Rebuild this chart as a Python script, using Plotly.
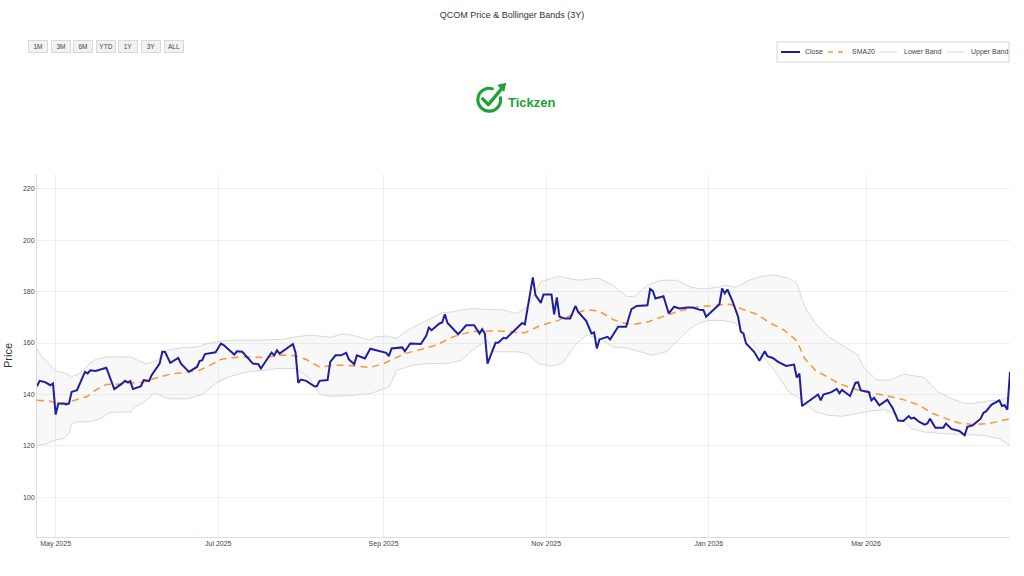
import base64
import plotly.graph_objects as go

# ---------------- data ----------------
close_dates = [
    "2025-04-24", "2025-04-25", "2025-04-27", "2025-04-29", "2025-04-30",
    "2025-05-01", "2025-05-02", "2025-05-04", "2025-05-05", "2025-05-06", "2025-05-07", "2025-05-09",
    "2025-05-12", "2025-05-13", "2025-05-14", "2025-05-16", "2025-05-20", "2025-05-23", "2025-05-26",
    "2025-05-27", "2025-05-28", "2025-05-29", "2025-05-30",
    "2025-06-02", "2025-06-03", "2025-06-05", "2025-06-06", "2025-06-09", "2025-06-10", "2025-06-11",
    "2025-06-13", "2025-06-16", "2025-06-17", "2025-06-20", "2025-06-23", "2025-06-24", "2025-06-25",
    "2025-06-26", "2025-06-30",
    "2025-07-02", "2025-07-03", "2025-07-07", "2025-07-08", "2025-07-10", "2025-07-14", "2025-07-16",
    "2025-07-17", "2025-07-19", "2025-07-21", "2025-07-22", "2025-07-23", "2025-07-24", "2025-07-29",
    "2025-07-30", "2025-07-31",
    "2025-08-01", "2025-08-03", "2025-08-06", "2025-08-07", "2025-08-08", "2025-08-11", "2025-08-12",
    "2025-08-14", "2025-08-16", "2025-08-18", "2025-08-19", "2025-08-21", "2025-08-22", "2025-08-25",
    "2025-08-27", "2025-08-29",
    "2025-09-02", "2025-09-03", "2025-09-04", "2025-09-08", "2025-09-09", "2025-09-11", "2025-09-15",
    "2025-09-17", "2025-09-18", "2025-09-19", "2025-09-22", "2025-09-23", "2025-09-24", "2025-09-25",
    "2025-09-27", "2025-09-29", "2025-09-30",
    "2025-10-02", "2025-10-05", "2025-10-07", "2025-10-08", "2025-10-09", "2025-10-10", "2025-10-13",
    "2025-10-14", "2025-10-16", "2025-10-17", "2025-10-20", "2025-10-22", "2025-10-23", "2025-10-24",
    "2025-10-27", "2025-10-28", "2025-10-30", "2025-10-31",
    "2025-11-03", "2025-11-04", "2025-11-05", "2025-11-06", "2025-11-08", "2025-11-10", "2025-11-12",
    "2025-11-13", "2025-11-16", "2025-11-18", "2025-11-19", "2025-11-20", "2025-11-21", "2025-11-24",
    "2025-11-25", "2025-11-28",
    "2025-12-01", "2025-12-03", "2025-12-05", "2025-12-09", "2025-12-10", "2025-12-11", "2025-12-12",
    "2025-12-15", "2025-12-17", "2025-12-19", "2025-12-21", "2025-12-24", "2025-12-26", "2025-12-29",
    "2025-12-30", "2025-12-31",
    "2026-01-05", "2026-01-06", "2026-01-07", "2026-01-08", "2026-01-10", "2026-01-12", "2026-01-13",
    "2026-01-14", "2026-01-15", "2026-01-18", "2026-01-20", "2026-01-22", "2026-01-23", "2026-01-25",
    "2026-01-27", "2026-01-30",
    "2026-02-02", "2026-02-03", "2026-02-04", "2026-02-05", "2026-02-07", "2026-02-09", "2026-02-11",
    "2026-02-12", "2026-02-13", "2026-02-16", "2026-02-18", "2026-02-19", "2026-02-20", "2026-02-23",
    "2026-02-25", "2026-02-26", "2026-02-27",
    "2026-03-02", "2026-03-03", "2026-03-04", "2026-03-06", "2026-03-09", "2026-03-11", "2026-03-13",
    "2026-03-15", "2026-03-17", "2026-03-18", "2026-03-19", "2026-03-21", "2026-03-23", "2026-03-24",
    "2026-03-25", "2026-03-27", "2026-03-30", "2026-03-31",
    "2026-04-02", "2026-04-05", "2026-04-07", "2026-04-08", "2026-04-10", "2026-04-13", "2026-04-14",
    "2026-04-15", "2026-04-17", "2026-04-20", "2026-04-21", "2026-04-22", "2026-04-23", "2026-04-24",
]
close_values = [
    143.2, 145.3, 144.8, 143.6, 144.3,
    132.2, 136.5, 136.5, 136.1, 136.5, 141.0, 141.7,
    148.8, 148.2, 149.4, 149.1, 150.4, 142.1, 144.3,
    145.3, 144.7, 145.2, 142.1,
    143.2, 145.6, 145.2, 147.5, 152.0, 156.6, 156.6,
    152.3, 154.2, 152.0, 148.8, 150.7, 153.0, 153.3,
    155.7, 156.4,
    159.8, 159.2, 155.5, 156.8, 156.6, 152.0, 151.8,
    150.1, 153.3, 156.3, 155.2, 157.2, 155.9, 159.6,
    156.2, 144.5,
    145.8, 145.3, 143.2, 143.2, 145.3, 145.6, 152.7,
    155.2, 155.2, 156.2, 153.6, 151.8, 155.2, 154.0,
    157.8, 157.2,
    156.2, 154.9, 157.9, 158.3, 156.8, 159.8, 159.6,
    162.8, 166.0, 165.0, 167.6, 168.0, 171.2, 167.8,
    165.6, 163.4, 164.5,
    166.9, 166.9, 163.7, 165.4, 163.7, 152.0, 160.1,
    160.1, 162.0, 161.8, 164.7, 166.9, 167.8, 167.2,
    185.5, 178.6, 175.6, 178.9,
    178.9, 171.1, 177.7, 170.2, 169.5, 169.5, 174.4,
    172.1, 168.6, 163.7, 164.1, 157.9, 161.4, 162.4,
    161.4, 166.3,
    166.3, 173.2, 174.4, 174.7, 181.0, 180.3, 177.3,
    178.2, 171.5, 174.1, 173.4, 173.8, 173.8, 172.8,
    172.8, 170.2,
    175.1, 181.2, 179.3, 180.8, 176.0, 170.2, 164.4,
    163.7, 159.8, 156.6, 153.1, 156.8, 154.9, 154.2,
    152.7, 151.1,
    151.6, 146.6, 148.1, 135.5, 137.0, 138.3, 140.0,
    137.7, 140.0, 140.9, 142.2, 140.5, 141.8, 139.4,
    144.5, 144.8, 141.6,
    141.0, 137.7, 138.7, 135.8, 138.0, 134.7, 129.9,
    129.7, 131.6, 130.6, 131.0, 129.3, 128.3, 128.7,
    130.6, 127.1, 127.1, 128.7,
    126.6, 125.8, 124.1, 127.4, 128.0, 130.6, 132.8,
    133.4, 136.0, 137.7, 135.5, 135.8, 134.1, 148.8,
]

sma_dates = [
    "2025-04-24", "2025-04-29", "2025-05-03", "2025-05-08", "2025-05-13", "2025-05-16", "2025-05-20",
    "2025-05-24", "2025-05-29", "2025-06-03", "2025-06-07", "2025-06-13", "2025-06-19", "2025-06-24",
    "2025-06-28", "2025-07-02", "2025-07-05", "2025-07-10", "2025-07-18", "2025-07-25", "2025-07-30",
    "2025-08-03", "2025-08-08", "2025-08-14", "2025-08-19", "2025-08-27", "2025-09-01", "2025-09-09",
    "2025-09-15", "2025-09-21", "2025-09-27", "2025-10-04", "2025-10-10", "2025-10-16", "2025-10-24",
    "2025-10-30", "2025-11-05", "2025-11-10", "2025-11-16", "2025-11-21", "2025-11-26", "2025-11-30",
    "2025-12-04", "2025-12-09", "2025-12-15", "2025-12-21", "2025-12-28", "2025-12-31", "2026-01-05",
    "2026-01-09", "2026-01-14", "2026-01-19", "2026-01-24", "2026-01-29", "2026-02-03", "2026-02-06",
    "2026-02-10", "2026-02-14", "2026-02-19", "2026-02-24", "2026-03-01", "2026-03-08", "2026-03-15",
    "2026-03-21", "2026-03-26", "2026-03-31", "2026-04-05", "2026-04-10", "2026-04-16", "2026-04-24",
]
sma_values = [
    137.8, 137.4, 136.1, 137.8, 139.3, 141.7, 143.9,
    144.0, 144.3, 144.8, 146.2, 147.9, 148.7, 149.4,
    151.4, 153.6, 154.2, 154.6, 154.4, 155.3, 155.1,
    153.6, 150.7, 151.4, 151.3, 150.5, 152.0, 155.9,
    157.5, 159.3, 162.4, 164.5, 164.7, 164.6, 164.0,
    166.9, 168.6, 170.6, 173.0, 172.4, 169.2, 167.8,
    167.3, 168.2, 170.2, 172.5, 174.1, 174.4, 174.7,
    175.1, 173.0, 171.2, 167.8, 165.2, 160.9, 154.0,
    149.4, 147.1, 144.2, 142.3, 141.0, 139.7, 138.0,
    135.8, 132.6, 130.6, 128.9, 128.3, 128.7, 130.6,
]

upper_dates = [
    "2025-04-24", "2025-04-26", "2025-04-30", "2025-05-01", "2025-05-05", "2025-05-07", "2025-05-10",
    "2025-05-14", "2025-05-16", "2025-05-20", "2025-05-25", "2025-05-29", "2025-06-02", "2025-06-04",
    "2025-06-08", "2025-06-12", "2025-06-17", "2025-06-23", "2025-06-27", "2025-07-02", "2025-07-08",
    "2025-07-15", "2025-07-25", "2025-07-30", "2025-08-05", "2025-08-12", "2025-08-16", "2025-08-19",
    "2025-08-27", "2025-08-29", "2025-09-02", "2025-09-06", "2025-09-10", "2025-09-15", "2025-09-20",
    "2025-09-23", "2025-09-27", "2025-09-30", "2025-10-05", "2025-10-10", "2025-10-15", "2025-10-21",
    "2025-10-25", "2025-10-30", "2025-11-03", "2025-11-06", "2025-11-09", "2025-11-14", "2025-11-19",
    "2025-11-21", "2025-11-26", "2025-12-01", "2025-12-04", "2025-12-09", "2025-12-14", "2025-12-20",
    "2025-12-25", "2025-12-28", "2026-01-01", "2026-01-05", "2026-01-07", "2026-01-11", "2026-01-16",
    "2026-01-21", "2026-01-26", "2026-01-31", "2026-02-03", "2026-02-06", "2026-02-10", "2026-02-15",
    "2026-02-19", "2026-02-26", "2026-02-28", "2026-03-05", "2026-03-10", "2026-03-15", "2026-03-23",
    "2026-03-28", "2026-04-02", "2026-04-07", "2026-04-10", "2026-04-16", "2026-04-20", "2026-04-24",
]
upper_values = [
    157.9, 154.6, 150.1, 149.1, 148.2, 146.9, 148.2,
    152.3, 153.6, 154.6, 154.6, 154.6, 152.7, 151.8,
    153.3, 157.2, 158.1, 158.5, 159.8, 160.8, 161.1,
    161.1, 161.4, 162.4, 163.1, 162.2, 163.4, 163.4,
    161.1, 162.4, 162.7, 161.8, 165.0, 167.6, 170.5,
    171.8, 172.1, 172.8, 173.4, 173.0, 173.0, 171.5,
    174.1, 183.8, 185.1, 186.0, 185.1, 184.4, 185.1,
    185.1, 182.5, 178.2, 178.0, 182.5, 184.4, 184.4,
    181.8, 181.2, 181.2, 181.8, 182.5, 181.6, 184.4,
    186.0, 186.4, 185.1, 183.2, 174.1, 167.6, 162.4,
    159.8, 155.3, 150.8, 145.6, 145.6, 147.9, 146.6,
    141.0, 138.4, 136.5, 136.5, 137.5, 137.7, 139.0,
]

lower_dates = [
    "2025-04-24", "2025-04-28", "2025-05-01", "2025-05-04", "2025-05-06", "2025-05-07", "2025-05-09",
    "2025-05-14", "2025-05-18", "2025-05-21", "2025-05-25", "2025-05-29", "2025-05-31", "2025-06-03",
    "2025-06-07", "2025-06-12", "2025-06-17", "2025-06-20", "2025-06-25", "2025-06-30", "2025-07-05",
    "2025-07-12", "2025-07-18", "2025-07-23", "2025-07-30", "2025-08-04", "2025-08-08", "2025-08-12",
    "2025-08-19", "2025-08-27", "2025-08-29", "2025-09-03", "2025-09-06", "2025-09-12", "2025-09-17",
    "2025-09-25", "2025-09-30", "2025-10-06", "2025-10-10", "2025-10-12", "2025-10-16", "2025-10-21",
    "2025-10-25", "2025-10-29", "2025-11-03", "2025-11-07", "2025-11-12", "2025-11-16", "2025-11-21",
    "2025-11-26", "2025-12-01", "2025-12-06", "2025-12-11", "2025-12-16", "2025-12-21", "2025-12-25",
    "2025-12-28", "2026-01-01", "2026-01-06", "2026-01-11", "2026-01-16", "2026-01-21", "2026-01-26",
    "2026-01-31", "2026-02-05", "2026-02-10", "2026-02-15", "2026-02-20", "2026-02-26", "2026-03-03",
    "2026-03-08", "2026-03-13", "2026-03-18", "2026-03-23", "2026-03-30", "2026-04-07", "2026-04-14",
    "2026-04-20", "2026-04-24",
]
lower_values = [
    120.0, 121.0, 122.3, 122.9, 124.8, 128.5, 129.4,
    129.4, 130.7, 132.9, 133.2, 133.2, 135.2, 136.8,
    140.6, 138.4, 138.3, 138.4, 140.0, 144.3, 146.9,
    148.8, 149.4, 150.1, 150.1, 146.6, 140.1, 139.3,
    139.5, 140.4, 141.0, 142.9, 149.4, 151.4, 152.0,
    152.0, 153.3, 158.5, 161.1, 156.6, 156.6, 156.6,
    155.9, 152.0, 151.0, 152.0, 159.2, 163.1, 161.8,
    158.5, 158.1, 156.6, 155.3, 156.6, 161.8, 165.6,
    167.6, 168.8, 168.8, 167.8, 161.8, 155.3, 148.8,
    141.0, 137.8, 133.2, 131.9, 131.5, 132.6, 133.6,
    134.1, 131.9, 126.7, 125.4, 124.8, 124.4, 124.1,
    122.8, 120.2,
]

range_buttons = ["1M", "3M", "6M", "YTD", "1Y", "3Y", "ALL"]
legend_names = ["Close", "SMA20", "Lower Band", "Upper Band"]

assert len(close_dates) == len(close_values)
assert len(sma_dates) == len(sma_values)
assert len(upper_dates) == len(upper_values)
assert len(lower_dates) == len(lower_values)

title_text = "QCOM Price & Bollinger Bands (3Y)"
x_range = ["2025-04-24", "2026-04-24"]
y_range = [84.6, 225.7]

# ---------------- styling ----------------
FONT = "Liberation Sans, Arial, Helvetica, sans-serif"
GREEN = "#21a038"
C_CLOSE = "#1f1f9c"
C_SMA = "#ff9333"
C_BAND = "#d9d9d9"
SMA_DASH = "7px,5px"

W, H = 1024, 576
M_L, M_R, M_T, M_B = 37, 14, 174, 39
PW = W - M_L - M_R
PH = H - M_T - M_B


def px_x(px):
    return (px - M_L) / PW


def px_y(py):
    return 1 + (M_T - py) / PH


fig = go.Figure()

# band fill (polygon between the upper and lower band)
fig.add_trace(go.Scatter(
    x=upper_dates + lower_dates[::-1], y=upper_values + lower_values[::-1],
    mode="lines", line=dict(width=0), fill="toself",
    fillcolor="rgba(200,200,200,0.13)", showlegend=False, hoverinfo="skip",
))
fig.add_trace(go.Scatter(
    x=lower_dates, y=lower_values, name="Lower Band", mode="lines",
    line=dict(color=C_BAND, width=1),
))
fig.add_trace(go.Scatter(
    x=upper_dates, y=upper_values, name="Upper Band", mode="lines",
    line=dict(color=C_BAND, width=1),
))
fig.add_trace(go.Scatter(
    x=sma_dates, y=sma_values, name="SMA20", mode="lines",
    line=dict(color=C_SMA, width=1.5, dash=SMA_DASH),
))
fig.add_trace(go.Scatter(
    x=close_dates, y=close_values, name="Close", mode="lines",
    line=dict(color=C_CLOSE, width=2),
))

shapes = []
annotations = []

# ---- compact legend box (top right) ----
shapes.append(dict(type="rect", xref="paper", yref="paper",
                   x0=px_x(777), x1=px_x(1009), y0=px_y(62), y1=px_y(42),
                   line=dict(color="#d6d6d6", width=1), fillcolor="white", layer="above"))
legend_items = [
    (legend_names[0], 781, 800, 803, dict(color=C_CLOSE, width=2)),
    (legend_names[1], 828, 845, 850, dict(color=C_SMA, width=1.5, dash="5px,5px")),
    (legend_names[2], 880, 897, 902, dict(color=C_BAND, width=1)),
    (legend_names[3], 947, 964, 969, dict(color=C_BAND, width=1)),
]
for name, lx0, lx1, tx, ln in legend_items:
    shapes.append(dict(type="line", xref="paper", yref="paper",
                       x0=px_x(lx0), x1=px_x(lx1), y0=px_y(52), y1=px_y(52),
                       line=ln, layer="above"))
    annotations.append(dict(text=name, xref="paper", yref="paper", x=px_x(tx), y=px_y(52),
                            xanchor="left", yanchor="middle", showarrow=False,
                            font=dict(family=FONT, size=7, color="#444")))

# ---- range-selector style buttons (top left) ----
btn_centers = [37.5, 60.5, 82.5, 106, 128, 150.5, 173.5]
for lab, cx in zip(range_buttons, btn_centers):
    annotations.append(dict(text=lab, xref="paper", yref="paper", x=px_x(cx), y=px_y(47),
                            xanchor="center", yanchor="middle", showarrow=False,
                            width=15, height=8, borderpad=1.5,
                            bgcolor="#f1f2f5", bordercolor="#d5d9e0", borderwidth=1,
                            font=dict(family=FONT, size=6.5, color="#444")))

# ---- logo ----
svg = (
    "<svg xmlns='http://www.w3.org/2000/svg' viewBox='0 0 40 40'>"
    f"<path d='M30.8 19.7 A13 13 0 1 1 21.4 9.4' fill='none' stroke='{GREEN}' "
    "stroke-width='3.6' stroke-linecap='round'/>"
    f"<path d='M10.5 21 L17 27.5 L32 9.5' fill='none' stroke='{GREEN}' stroke-width='3.8' "
    "stroke-linecap='round' stroke-linejoin='round'/>"
    f"<path d='M37.5 2.5 L27 5 L35 13 Z' fill='{GREEN}'/>"
    "</svg>"
)
logo_src = "data:image/svg+xml;base64," + base64.b64encode(svg.encode()).decode()
fig.add_layout_image(dict(
    source=logo_src, xref="paper", yref="paper",
    x=px_x(491), y=px_y(98), sizex=37 / PW, sizey=35 / PH,
    xanchor="center", yanchor="middle", sizing="contain", layer="above",
))
annotations.append(dict(text="<b>Tickzen</b>", xref="paper", yref="paper",
                        x=px_x(532), y=px_y(102), xanchor="center", yanchor="middle",
                        showarrow=False, font=dict(family=FONT, size=13, color=GREEN)))

fig.update_layout(
    width=W, height=H,
    margin=dict(l=M_L, r=M_R, t=M_T, b=M_B, autoexpand=False),
    paper_bgcolor="white", plot_bgcolor="white",
    font=dict(family=FONT, size=8, color="#444"),
    title=dict(text=title_text, x=0.5, xanchor="center", y=1 - 15 / H, yanchor="middle",
               font=dict(family=FONT, size=9, color="#333")),
    showlegend=False,
    shapes=shapes,
    annotations=annotations,
    hovermode="x unified",
)

fig.update_xaxes(
    type="date", range=x_range,
    showgrid=True, gridcolor="#eceff4", gridwidth=1,
    showline=True, linecolor="#d8dde6", linewidth=1,
    tickfont=dict(family=FONT, size=7, color="#444"),
    dtick="M2", tickformat="%b %Y",
    automargin=False,
)
fig.update_yaxes(
    range=y_range, dtick=20,
    showgrid=True, gridcolor="#eceff4", gridwidth=1,
    showline=True, linecolor="#d8dde6", linewidth=1,
    zeroline=False,
    tickfont=dict(family=FONT, size=7, color="#444"),
    title=dict(text="Price", font=dict(family=FONT, size=11, color="#333"), standoff=8),
    automargin=False,
)

fig.write_html("out.html")
